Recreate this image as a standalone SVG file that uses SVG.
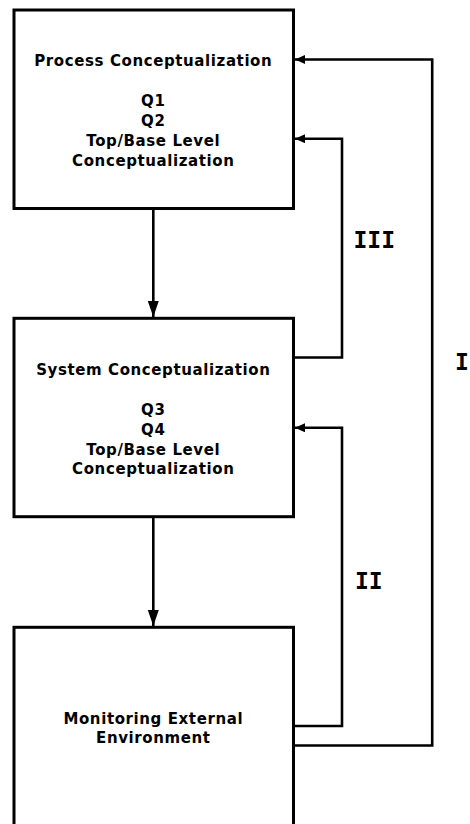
<svg xmlns="http://www.w3.org/2000/svg" width="470" height="824" viewBox="0 0 470 824">
<style>
.box{fill:#fff;stroke:#000;stroke-width:3}
.t{font-family:"DejaVu Sans",Verdana,sans-serif;font-weight:bold;font-size:15px;letter-spacing:0.6px;fill:#000;text-anchor:middle}
.lbl{font-family:"DejaVu Sans Mono","Liberation Mono",monospace;font-weight:bold;font-size:23px;fill:#000}
.c{fill:none;stroke:#000;stroke-width:2.6}
</style>
<defs>
<marker id="ah" markerUnits="userSpaceOnUse" markerWidth="12" markerHeight="10" refX="10" refY="4.5" orient="auto">
<path d="M0,0 L10,4.5 L0,9 Z" fill="#000"/>
</marker>
<marker id="av" markerUnits="userSpaceOnUse" markerWidth="18" markerHeight="12" refX="16" refY="5.5" orient="auto">
<path d="M0,0 L16,5.5 L0,11 Z" fill="#000"/>
</marker>
</defs>
<rect width="470" height="824" fill="#fff"/>
<g id="n1">
<rect class="box" x="14" y="10" width="279.5" height="198.5"/>
<text class="t" x="153.3" y="66">Process Conceptualization</text>
<text class="t" x="153.3" y="106">Q1</text>
<text class="t" x="153.3" y="126">Q2</text>
<text class="t" x="153.3" y="146">Top/Base Level</text>
<text class="t" x="153.3" y="166">Conceptualization</text>
</g>
<g id="n2">
<rect class="box" x="14" y="318.3" width="279.5" height="198.4"/>
<text class="t" x="153.3" y="375">System Conceptualization</text>
<text class="t" x="153.3" y="414.5">Q3</text>
<text class="t" x="153.3" y="434.5">Q4</text>
<text class="t" x="153.3" y="454.5">Top/Base Level</text>
<text class="t" x="153.3" y="473.5">Conceptualization</text>
</g>
<g id="n3">
<rect class="box" x="14" y="627.3" width="279.5" height="210"/>
<text class="t" x="153.3" y="723.5">Monitoring External</text>
<text class="t" x="153.3" y="743">Environment</text>
</g>
<g id="connectors">
<path class="c" d="M153.3,210 L153.3,317" marker-end="url(#av)"/>
<path class="c" d="M153.3,518 L153.3,626" marker-end="url(#av)"/>
<path class="c" d="M295,745.5 L432.2,745.5 L432.2,59.5 L295,59.5" marker-end="url(#ah)"/>
<path class="c" d="M295,357.5 L342,357.5 L342,138.7 L295,138.7" marker-end="url(#ah)"/>
<path class="c" d="M295,726 L342,726 L342,427.8 L295,427.8" marker-end="url(#ah)"/>
<text class="lbl" x="353.5" y="248.3">III</text>
<text class="lbl" x="355" y="589.3">II</text>
<text class="lbl" x="455" y="370">I</text>
</g>
</svg>
